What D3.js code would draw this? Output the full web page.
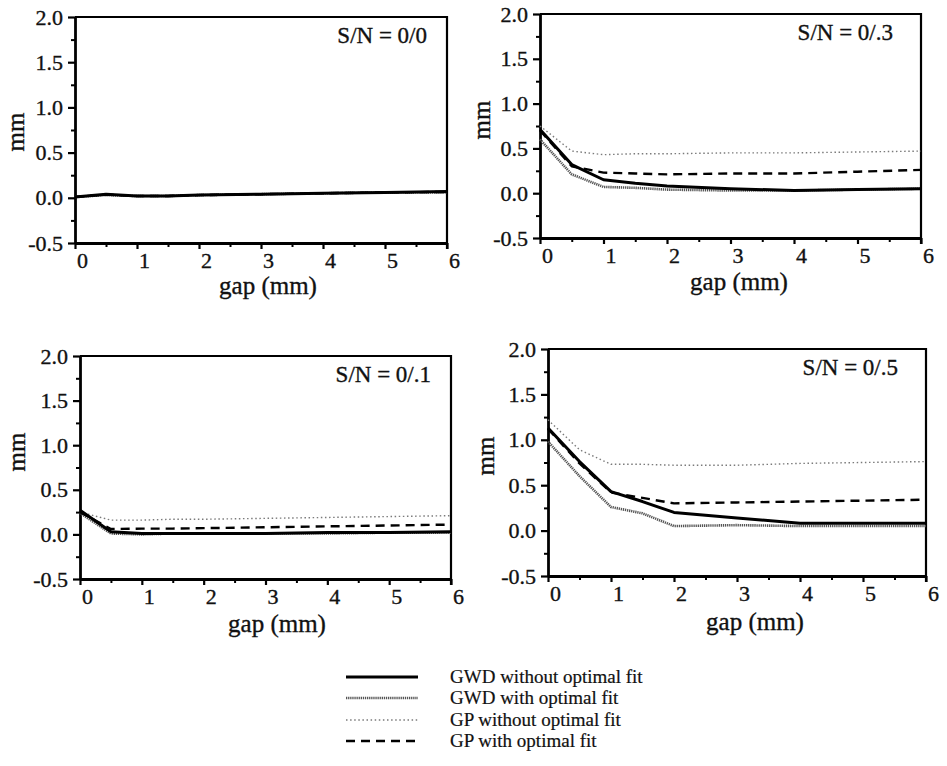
<!DOCTYPE html>
<html>
<head>
<meta charset="utf-8">
<script src="https://cdn.jsdelivr.net/npm/d3@7"></script>
<style>
  html, body { margin: 0; padding: 0; background: #fff; }
  svg { display: block; }
</style>
</head>
<body>
<svg id="chart" width="947" height="766"></svg>
<script>
// Gap positions (mm) at which each error curve was evaluated
const gapValues = [0, 0.5, 1, 1.5, 2, 3, 4, 5, 6];

// Panel titles (signal/noise settings)
const panelTitles = ["S/N = 0/0", "S/N = 0/.3", "S/N = 0/.1", "S/N = 0/.5"];

// Axis ticks
const yMajorTicks = [-0.5, 0, 0.5, 1.0, 1.5, 2.0];
const yMinorTicks = [-0.25, 0.25, 0.75, 1.25, 1.75];
const xMajorTicks = [0, 1, 2, 3, 4, 5, 6];
const xMinorTicks = [0.5, 1.5, 2.5, 3.5, 4.5, 5.5];

// Series names (legend order)
const seriesNames = ["GWD without optimal fit", "GWD with optimal fit", "GP without optimal fit", "GP with optimal fit"];

// S/N = 0/0
const sn00_gwdNoFit = [0.01, 0.04, 0.02, 0.02, 0.03, 0.04, 0.05, 0.06, 0.07];
const sn00_gwdFit   = [0.01, 0.03, 0.02, 0.02, 0.03, 0.04, 0.05, 0.06, 0.06];
const sn00_gpNoFit  = [0.01, 0.04, 0.02, 0.025, 0.03, 0.04, 0.055, 0.065, 0.07];
const sn00_gpFit    = [0.01, 0.035, 0.02, 0.02, 0.03, 0.04, 0.05, 0.06, 0.065];

// S/N = 0/.3
const sn03_gwdNoFit = [0.71, 0.32, 0.15, 0.11, 0.08, 0.05, 0.03, 0.04, 0.05];
const sn03_gwdFit   = [0.60, 0.21, 0.07, 0.06, 0.04, 0.03, 0.03, 0.04, 0.05];
const sn03_gpNoFit  = [0.75, 0.47, 0.43, 0.44, 0.44, 0.45, 0.45, 0.46, 0.47];
const sn03_gpFit    = [0.70, 0.30, 0.23, 0.22, 0.21, 0.22, 0.22, 0.24, 0.26];

// S/N = 0/.1
const sn01_gwdNoFit = [0.27, 0.03, 0.01, 0.01, 0.01, 0.01, 0.02, 0.02, 0.03];
const sn01_gwdFit   = [0.24, 0.01, 0.00, 0.01, 0.01, 0.01, 0.01, 0.02, 0.02];
const sn01_gpNoFit  = [0.25, 0.16, 0.16, 0.17, 0.17, 0.18, 0.19, 0.20, 0.21];
const sn01_gpFit    = [0.25, 0.06, 0.065, 0.065, 0.07, 0.08, 0.09, 0.10, 0.11];

// S/N = 0/.5
const sn05_gwdNoFit = [1.13, 0.76, 0.43, 0.32, 0.20, 0.14, 0.08, 0.08, 0.08];
const sn05_gwdFit   = [0.98, 0.60, 0.26, 0.19, 0.05, 0.06, 0.05, 0.05, 0.05];
const sn05_gpNoFit  = [1.22, 0.89, 0.73, 0.73, 0.72, 0.72, 0.74, 0.75, 0.76];
const sn05_gpFit    = [1.12, 0.74, 0.42, 0.36, 0.30, 0.31, 0.32, 0.33, 0.34];

const panelSeries = [
  [sn00_gwdNoFit, sn00_gwdFit, sn00_gpNoFit, sn00_gpFit],
  [sn03_gwdNoFit, sn03_gwdFit, sn03_gpNoFit, sn03_gpFit],
  [sn01_gwdNoFit, sn01_gwdFit, sn01_gpNoFit, sn01_gpFit],
  [sn05_gwdNoFit, sn05_gwdFit, sn05_gpNoFit, sn05_gpFit]
];

// Stroke styles per series
const seriesStyles = [
  { stroke: "#000", width: 3.0, dash: null },
  { stroke: "#555", width: 2.6, dash: "1.3 0.8" },
  { stroke: "#7a7a7a", width: 1.4, dash: "1.5 2.6" },
  { stroke: "#000", width: 2.4, dash: "9 6" }
];
// Draw order: light curves first, solid on top
const drawOrder = [2, 1, 3, 0];

// Panel frames and label placement
const panels = [
  { left: 75,  right: 447, top: 17,  bottom: 243, yLabel: [15, 132],  xLabel: [268, 294] },
  { left: 540, right: 921, top: 14,  bottom: 238, yLabel: [481, 120], xLabel: [739, 290] },
  { left: 80,  right: 451, top: 356, bottom: 579, yLabel: [16, 452],  xLabel: [277, 632] },
  { left: 548, right: 926, top: 349, bottom: 576, yLabel: [485, 456], xLabel: [755, 630] }
];

const SERIF = '"Liberation Serif", "Times New Roman", Times, serif';
const svg = d3.select("#chart");
const fmtY = d => d.toFixed(1);

// serif text with a faint outline for a heavier print look
function serifText(sel, size) {
  return sel.style("font-family", SERIF)
    .style("font-size", size + "px")
    .attr("fill", "#111")
    .attr("stroke", "#111")
    .attr("stroke-width", 0.35);
}

panels.forEach((p, i) => {
  const x = d3.scaleLinear().domain([0, 6]).range([p.left, p.right]);
  const y = d3.scaleLinear().domain([-0.5, 2]).range([p.bottom, p.top]);
  const g = svg.append("g");

  // top and right frame
  g.append("path")
    .attr("d", `M${p.left},${p.top}H${p.right}V${p.bottom + 6}`)
    .attr("fill", "none").attr("stroke", "#000").attr("stroke-width", 2.2);

  // minor ticks
  g.append("g").attr("transform", `translate(${p.left},0)`)
    .call(d3.axisLeft(y).tickValues(yMinorTicks).tickSize(4).tickFormat(""))
    .call(a => a.select(".domain").remove())
    .selectAll("line").attr("stroke-width", 2);
  g.append("g").attr("transform", `translate(0,${p.bottom})`)
    .call(d3.axisBottom(x).tickValues(xMinorTicks).tickSize(4).tickFormat(""))
    .call(a => a.select(".domain").remove())
    .selectAll("line").attr("stroke-width", 2);

  // major axes
  const ya = g.append("g").attr("transform", `translate(${p.left},0)`)
    .call(d3.axisLeft(y).tickValues(yMajorTicks).tickSize(7).tickSizeOuter(0).tickPadding(5).tickFormat(fmtY));
  ya.select(".domain").attr("stroke-width", 2.8);
  ya.selectAll("line").attr("stroke-width", 2.2);
  serifText(ya.selectAll("text"), 22);

  const xa = g.append("g").attr("transform", `translate(0,${p.bottom})`)
    .call(d3.axisBottom(x).tickValues(xMajorTicks).tickSize(6).tickSizeOuter(0).tickPadding(3).tickFormat(d3.format("d")));
  xa.select(".domain").attr("stroke-width", 2.8);
  xa.selectAll("line").attr("stroke-width", 2.2);
  serifText(xa.selectAll("text"), 22).attr("dx", 7);

  // axis titles
  serifText(g.append("text"), 25)
    .attr("transform", `translate(${p.yLabel[0]},${p.yLabel[1]}) rotate(-90)`)
    .attr("text-anchor", "middle").attr("dominant-baseline", "central")
    .text("mm");
  serifText(g.append("text"), 25)
    .attr("x", p.xLabel[0]).attr("y", p.xLabel[1])
    .attr("text-anchor", "middle").text("gap (mm)");

  // panel title
  serifText(g.append("text"), 23)
    .attr("x", p.right - (i % 2 === 0 ? 20 : 28)).attr("y", p.top + 26)
    .attr("text-anchor", "end")
    .text(panelTitles[i]);

  // curves
  const line = d3.line().x((d, k) => x(gapValues[k])).y(d => y(d));
  drawOrder.forEach(s => {
    const st = seriesStyles[s];
    g.append("path")
      .datum(panelSeries[i][s])
      .attr("d", line)
      .attr("fill", "none")
      .attr("stroke", st.stroke)
      .attr("stroke-width", st.width)
      .attr("stroke-dasharray", st.dash)
      .attr("stroke-linejoin", "round");
  });
});

// legend
const legendRows = [677, 698, 720, 741];
const lg = svg.append("g");
seriesNames.forEach((name, s) => {
  const st = seriesStyles[s];
  lg.append("line")
    .attr("x1", 346).attr("x2", 418)
    .attr("y1", legendRows[s]).attr("y2", legendRows[s])
    .attr("stroke", st.stroke).attr("stroke-width", st.width)
    .attr("stroke-dasharray", st.dash);
  serifText(lg.append("text"), 19)
    .attr("stroke-width", 0.2)
    .attr("x", 450).attr("y", legendRows[s] + 6)
    .text(name);
});
</script>
</body>
</html>
